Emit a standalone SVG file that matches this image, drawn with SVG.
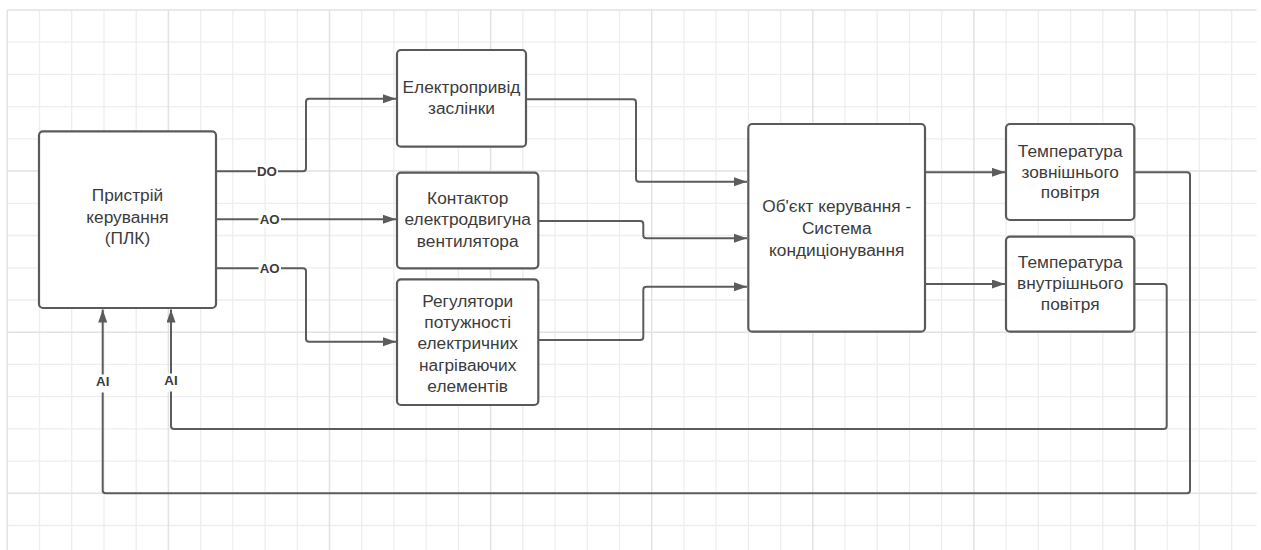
<svg xmlns="http://www.w3.org/2000/svg" width="1261" height="550" viewBox="0 0 1261 550">
  <style>
    .grid-minor { stroke: #eeeeee; stroke-width: 1.3; fill: none; }
    .grid-major { stroke: #e2e2e2; stroke-width: 1.5; fill: none; }
    .box { fill: #ffffff; stroke: #5a5a5a; stroke-width: 2.2; }
    .txt { font-family: "Liberation Sans", Arial, sans-serif; font-size: 17.3px; fill: #3c3c3c; text-anchor: middle; }
    .conn { fill: none; stroke: #5c5c5c; stroke-width: 2; }
    .lbl { font-family: "Liberation Sans", Arial, sans-serif; font-size: 13.3px; font-weight: bold; fill: #3c3c3c; text-anchor: middle; }
    .lblbg { fill: #ffffff; }
  </style>
  <defs>
    <marker id="arrow" markerUnits="userSpaceOnUse" markerWidth="14" markerHeight="10" refX="13" refY="4.5" orient="auto">
      <path d="M0,0 L13,4.5 L0,9 z" fill="#5c5c5c"/>
    </marker>
  </defs>
  <rect x="0" y="0" width="1261" height="550" fill="#ffffff"/>
  <g id="grid">
    <path class="grid-minor" d="M39.5,10V550 M71.7,10V550 M104,10V550 M136.2,10V550 M200.6,10V550 M232.8,10V550 M265.1,10V550 M297.3,10V550 M361.7,10V550 M393.9,10V550 M426.2,10V550 M458.4,10V550 M522.8,10V550 M555,10V550 M587.3,10V550 M619.5,10V550 M683.9,10V550 M716.1,10V550 M748.4,10V550 M780.6,10V550 M845,10V550 M877.2,10V550 M909.5,10V550 M941.7,10V550 M1006.1,10V550 M1038.3,10V550 M1070.6,10V550 M1102.8,10V550 M1167.2,10V550 M1199.4,10V550 M1231.7,10V550 M7.3,42.2H1256.7 M7.3,74.4H1256.7 M7.3,106.7H1256.7 M7.3,138.9H1256.7 M7.3,203.3H1256.7 M7.3,235.5H1256.7 M7.3,267.8H1256.7 M7.3,300H1256.7 M7.3,364.4H1256.7 M7.3,396.6H1256.7 M7.3,428.9H1256.7 M7.3,461.1H1256.7 M7.3,525.5H1256.7"/>
    <path class="grid-major" d="M7.3,10V550 M168.4,10V550 M329.5,10V550 M490.6,10V550 M651.7,10V550 M812.8,10V550 M973.9,10V550 M1135,10V550 M7.3,10H1256.7 M7.3,171.1H1256.7 M7.3,332.2H1256.7 M7.3,493.3H1256.7"/>
  </g>
  <g id="connectors">
    <path class="conn" marker-end="url(#arrow)" d="M216,171.3 H303 Q306,171.3 306,168.3 V101.7 Q306,98.7 309,98.7 H396"/>
    <path class="conn" marker-end="url(#arrow)" d="M216,219.3 H396"/>
    <path class="conn" marker-end="url(#arrow)" d="M216,268.3 H303 Q306,268.3 306,271.3 V338.7 Q306,341.7 309,341.7 H396"/>
    <path class="conn" marker-end="url(#arrow)" d="M526,99.3 H633 Q636,99.3 636,102.3 V178.7 Q636,181.7 639,181.7 H747"/>
    <path class="conn" marker-end="url(#arrow)" d="M538,221 H640.3 Q643.3,221 643.3,224 V235.3 Q643.3,238.3 646.3,238.3 H747"/>
    <path class="conn" marker-end="url(#arrow)" d="M538,340 H640.3 Q643.3,340 643.3,337 V289.7 Q643.3,286.7 646.3,286.7 H747"/>
    <path class="conn" marker-end="url(#arrow)" d="M925,172.3 H1005"/>
    <path class="conn" marker-end="url(#arrow)" d="M925,284 H1005"/>
    <path class="conn" marker-end="url(#arrow)" d="M1134,172.3 H1187 Q1190,172.3 1190,175.3 V490.3 Q1190,493.3 1187,493.3 H105.7 Q102.7,493.3 102.7,490.3 V309.5"/>
    <path class="conn" marker-end="url(#arrow)" d="M1134,284 H1163.7 Q1166.7,284 1166.7,287 V426 Q1166.7,429 1163.7,429 H174 Q171,429 171,426 V309.5"/>
    <rect class="lblbg" x="256" y="164" width="22" height="15"/>
    <text class="lbl" x="267" y="176">DO</text>
    <rect class="lblbg" x="258.5" y="212" width="22.5" height="15"/>
    <text class="lbl" x="269.7" y="224">AO</text>
    <rect class="lblbg" x="258.5" y="261" width="22.5" height="15"/>
    <text class="lbl" x="269.7" y="273">AO</text>
    <rect class="lblbg" x="94" y="374.5" width="17.5" height="18"/>
    <text class="lbl" x="102.7" y="386.4">AI</text>
    <rect class="lblbg" x="162.3" y="373.5" width="17.5" height="18"/>
    <text class="lbl" x="171" y="385.4">AI</text>
  </g>
  <g id="node-plc">
    <rect class="box" x="39" y="131.3" width="177" height="176.7" rx="4"/>
    <text class="txt" x="127.5" y="201">Пристрій</text>
    <text class="txt" x="127.5" y="222.5">керування</text>
    <text class="txt" x="127.5" y="244">(ПЛК)</text>
  </g>
  <g id="node-drive">
    <rect class="box" x="397" y="50" width="129" height="96.7" rx="4"/>
    <text class="txt" x="461.5" y="93.3">Електропривід</text>
    <text class="txt" x="461.5" y="114">заслінки</text>
  </g>
  <g id="node-contactor">
    <rect class="box" x="397" y="172.7" width="141.3" height="95.6" rx="4"/>
    <text class="txt" x="467.7" y="204">Контактор</text>
    <text class="txt" x="467.7" y="225.3">електродвигуна</text>
    <text class="txt" x="467.7" y="246.6">вентилятора</text>
  </g>
  <g id="node-regulators">
    <rect class="box" x="397" y="279.3" width="141.3" height="125.7" rx="4"/>
    <text class="txt" x="467.7" y="306.7">Регулятори</text>
    <text class="txt" x="467.7" y="328">потужності</text>
    <text class="txt" x="467.7" y="349.3">електричних</text>
    <text class="txt" x="467.7" y="370.6">нагріваючих</text>
    <text class="txt" x="467.7" y="391.9">елементів</text>
  </g>
  <g id="node-object">
    <rect class="box" x="748.3" y="124" width="176.7" height="207.7" rx="4"/>
    <text class="txt" x="836.7" y="212.3">Об'єкт керування -</text>
    <text class="txt" x="836.7" y="234">Система</text>
    <text class="txt" x="836.7" y="255.6">кондиціонування</text>
  </g>
  <g id="node-temp-out">
    <rect class="box" x="1006" y="124" width="128.3" height="96" rx="4"/>
    <text class="txt" x="1070.2" y="156.7">Температура</text>
    <text class="txt" x="1070.2" y="177.5">зовнішнього</text>
    <text class="txt" x="1070.2" y="198.3">повітря</text>
  </g>
  <g id="node-temp-in">
    <rect class="box" x="1006" y="236.7" width="128.3" height="95" rx="4"/>
    <text class="txt" x="1070.2" y="268.3">Температура</text>
    <text class="txt" x="1070.2" y="289">внутрішнього</text>
    <text class="txt" x="1070.2" y="309.7">повітря</text>
  </g>
</svg>
